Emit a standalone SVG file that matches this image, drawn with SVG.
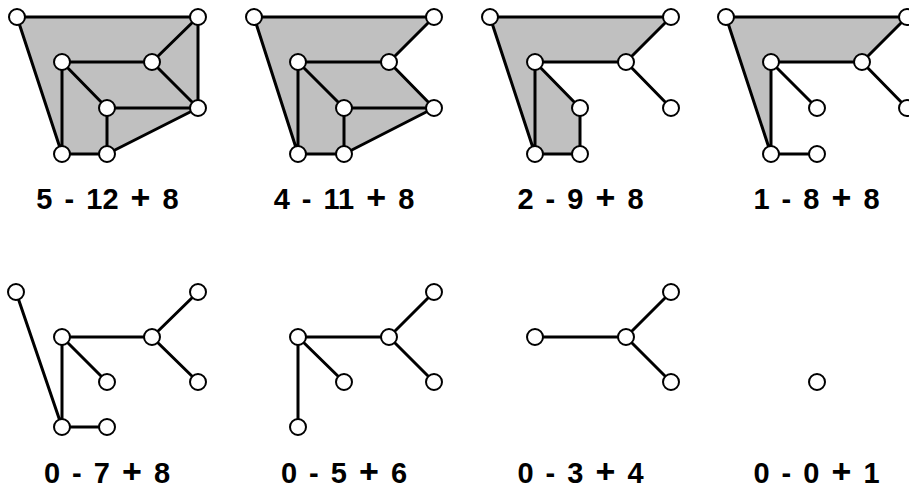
<svg xmlns="http://www.w3.org/2000/svg" width="909" height="491" viewBox="0 0 909 491">
<style>
.face{fill:#c0c0c0;stroke:none}
.e{stroke:#000;stroke-width:3;fill:none;stroke-linecap:round}
.n{fill:#fff;stroke:#000;stroke-width:2}
.lbl{font-family:"Liberation Sans",Arial,sans-serif;font-weight:bold;font-size:29px;text-anchor:middle;word-spacing:4px;fill:#000}
.pl{font-size:34px}
</style>
<rect width="909" height="491" fill="#fff"/>
<g id="faces">
<polygon class="face" points="17,17 198,17 198,108 107,154 62,154"/>
<polygon class="face" points="254,17 434,17 389,62 434,108 344,154 298,154"/>
<polygon class="face" points="490,17 671,17 626,62 535,62 580,108 580,154 535,154"/>
<polygon class="face" points="726,17 907,17 862,62 771,62 771,154"/>
</g>
<g id="connectors">
<path class="e" d="M17,17H198M198,17V108M198,17L152,62M62,62H152M152,62L198,108M62,62L107,108M107,108H198M62,62V154M107,108V154M62,154H107M107,154L198,108M17,17L62,154"/>
<path class="e" d="M254,17H434M254,17L298,154M434,17L389,62M298,62H389M298,62L344,108M298,62V154M389,62L434,108M344,108H434M344,108V154M434,108L344,154M298,154H344"/>
<path class="e" d="M490,17H671M490,17L535,154M671,17L626,62M535,62H626M626,62L671,108M535,62L580,108M535,62V154M580,108V154M535,154H580"/>
<path class="e" d="M726,17H907M726,17L771,154M907,17L862,62M771,62H862M862,62L907,108M771,62L817,108M771,62V154M771,154H817"/>
<path class="e" d="M16,292L62,427M62,337H152M152,337L198,292M152,337L198,382M62,337L107,382M62,337V427M62,427H107"/>
<path class="e" d="M298,337H389M389,337L434,292M389,337L434,382M298,337L344,382M298,337V427"/>
<path class="e" d="M535,337H626M626,337L671,292M626,337L671,382"/>
</g>
<g id="graph1">
<circle class="n" cx="17" cy="17" r="8"/><circle class="n" cx="198" cy="17" r="8"/>
<circle class="n" cx="62" cy="62" r="8"/><circle class="n" cx="152" cy="62" r="8"/>
<circle class="n" cx="107" cy="108" r="8"/><circle class="n" cx="198" cy="108" r="8"/>
<circle class="n" cx="62" cy="154" r="8"/><circle class="n" cx="107" cy="154" r="8"/>
<text class="lbl" x="107.5" y="209">5 - 12 <tspan class="pl">+</tspan> 8</text>
</g>
<g id="graph2">
<circle class="n" cx="254" cy="17" r="8"/><circle class="n" cx="434" cy="17" r="8"/>
<circle class="n" cx="298" cy="62" r="8"/><circle class="n" cx="389" cy="62" r="8"/>
<circle class="n" cx="344" cy="108" r="8"/><circle class="n" cx="434" cy="108" r="8"/>
<circle class="n" cx="298" cy="154" r="8"/><circle class="n" cx="344" cy="154" r="8"/>
<text class="lbl" x="344" y="209">4 - 11 <tspan class="pl">+</tspan> 8</text>
</g>
<g id="graph3">
<circle class="n" cx="490" cy="17" r="8"/><circle class="n" cx="671" cy="17" r="8"/>
<circle class="n" cx="535" cy="62" r="8"/><circle class="n" cx="626" cy="62" r="8"/>
<circle class="n" cx="580" cy="108" r="8"/><circle class="n" cx="671" cy="108" r="8"/>
<circle class="n" cx="535" cy="154" r="8"/><circle class="n" cx="580" cy="154" r="8"/>
<text class="lbl" x="580.5" y="209">2 - 9 <tspan class="pl">+</tspan> 8</text>
</g>
<g id="graph4">
<circle class="n" cx="726" cy="17" r="8"/><circle class="n" cx="907" cy="17" r="8"/>
<circle class="n" cx="771" cy="62" r="8"/><circle class="n" cx="862" cy="62" r="8"/>
<circle class="n" cx="817" cy="108" r="8"/><circle class="n" cx="907" cy="108" r="8"/>
<circle class="n" cx="771" cy="154" r="8"/><circle class="n" cx="817" cy="154" r="8"/>
<text class="lbl" x="816.5" y="209">1 - 8 <tspan class="pl">+</tspan> 8</text>
</g>
<g id="graph5">
<circle class="n" cx="16" cy="292" r="8"/><circle class="n" cx="198" cy="292" r="8"/>
<circle class="n" cx="62" cy="337" r="8"/><circle class="n" cx="152" cy="337" r="8"/>
<circle class="n" cx="107" cy="382" r="8"/><circle class="n" cx="198" cy="382" r="8"/>
<circle class="n" cx="62" cy="427" r="8"/><circle class="n" cx="107" cy="427" r="8"/>
<text class="lbl" x="107" y="483">0 - 7 <tspan class="pl">+</tspan> 8</text>
</g>
<g id="graph6">
<circle class="n" cx="434" cy="292" r="8"/>
<circle class="n" cx="298" cy="337" r="8"/><circle class="n" cx="389" cy="337" r="8"/>
<circle class="n" cx="344" cy="382" r="8"/><circle class="n" cx="434" cy="382" r="8"/>
<circle class="n" cx="298" cy="427" r="8"/>
<text class="lbl" x="344" y="483">0 - 5 <tspan class="pl">+</tspan> 6</text>
</g>
<g id="graph7">
<circle class="n" cx="671" cy="292" r="8"/>
<circle class="n" cx="535" cy="337" r="8"/><circle class="n" cx="626" cy="337" r="8"/>
<circle class="n" cx="671" cy="382" r="8"/>
<text class="lbl" x="580.5" y="483">0 - 3 <tspan class="pl">+</tspan> 4</text>
</g>
<g id="graph8">
<circle class="n" cx="817" cy="382" r="8"/>
<text class="lbl" x="816.5" y="483">0 - 0 <tspan class="pl">+</tspan> 1</text>
</g>
</svg>
